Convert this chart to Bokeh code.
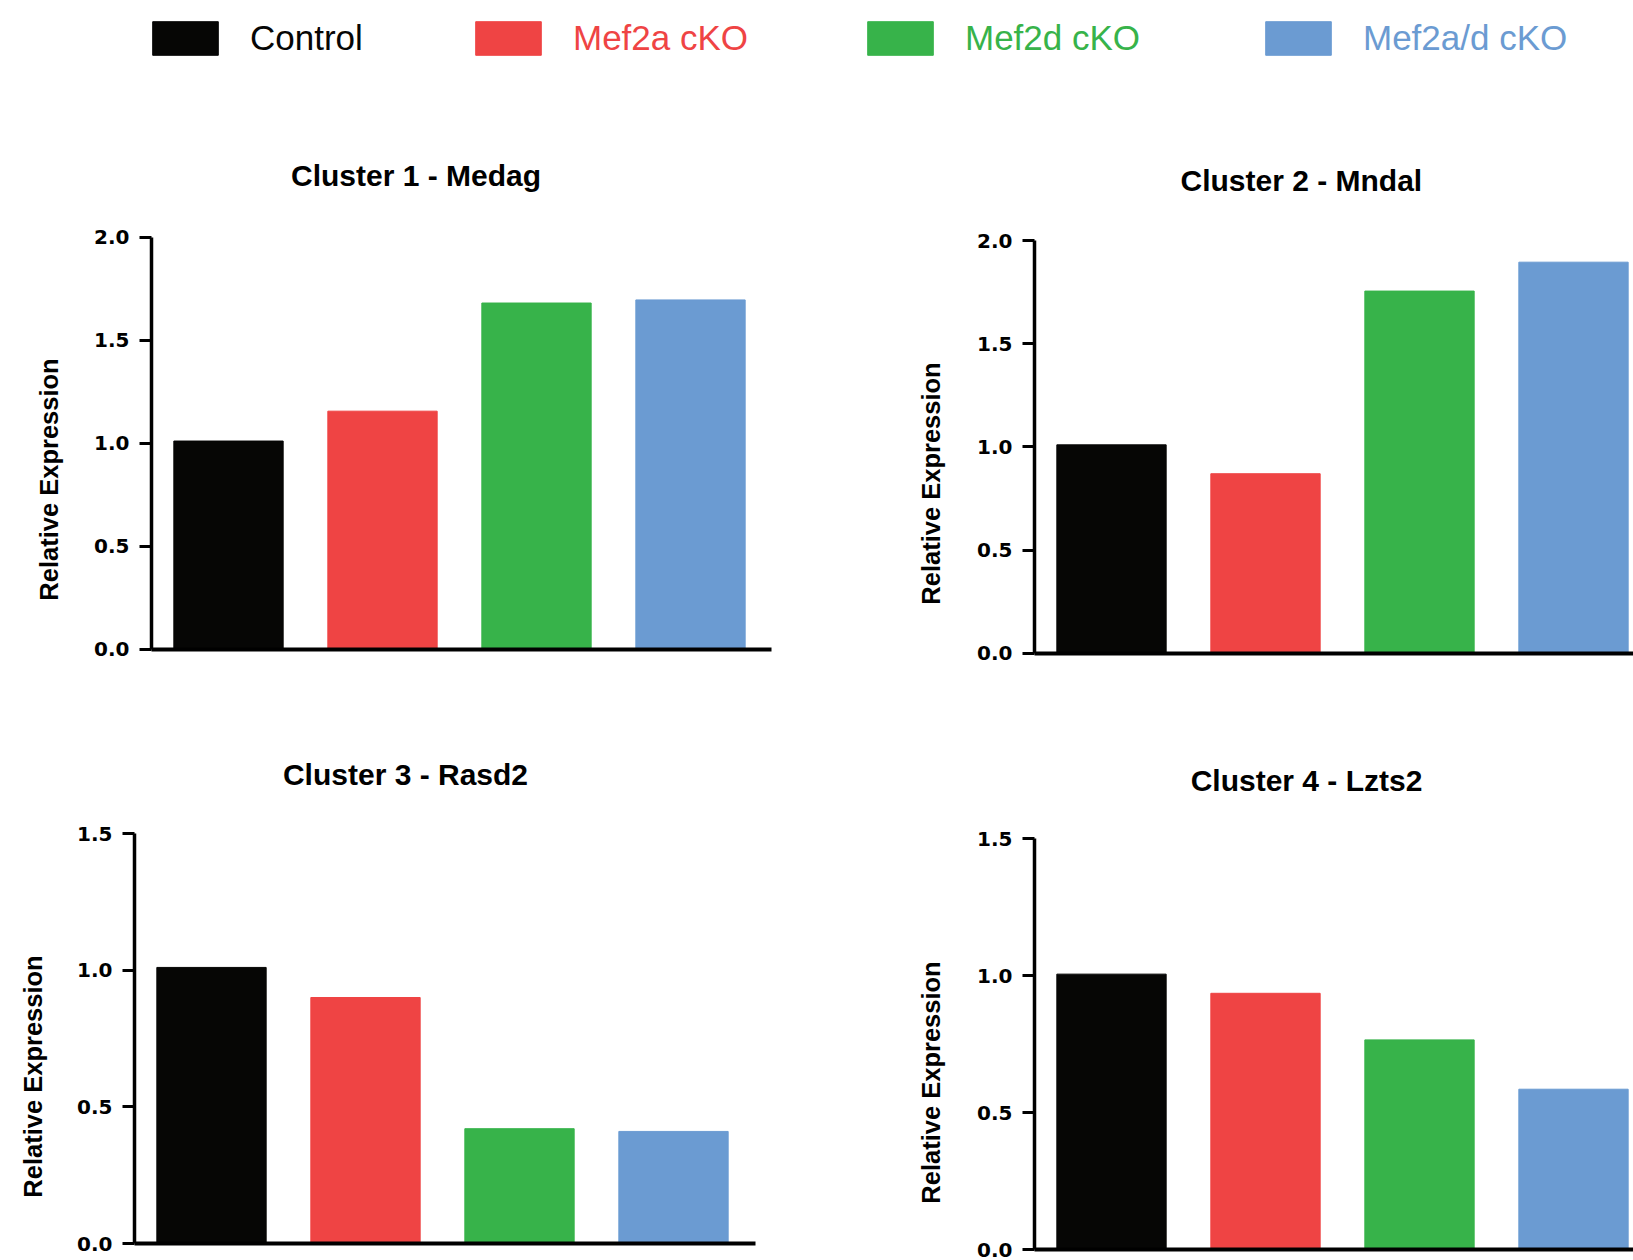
import numpy as np
from bokeh.plotting import figure
from bokeh.models import (ColumnDataSource, Range1d, FixedTicker, LinearAxis, Label,
                          Legend, LegendItem, PrintfTickFormatter)
from bokeh.layouts import column, row
from bokeh.embed import file_html
from bokeh.resources import INLINE

# ---------------- data ----------------
groups = ["Control", "Mef2a cKO", "Mef2d cKO", "Mef2a/d cKO"]
colors = ["#060605", "#EF4444", "#37B34A", "#6B9BD2"]

titles = ["Cluster 1 - Medag", "Cluster 2 -  Mndal", "Cluster 3 - Rasd2", "Cluster 4 - Lzts2"]
medag = [1.01, 1.155, 1.68, 1.695]
mndal = [1.01, 0.87, 1.755, 1.895]
rasd2 = [1.01, 0.90, 0.42, 0.41]
lzts2 = [1.005, 0.935, 0.765, 0.585]

y_label = "Relative Expression"
yticks_c12 = [0.0, 0.5, 1.0, 1.5, 2.0]
yticks_c34 = [0.0, 0.5, 1.0, 1.5]

FONT = "Liberation Sans"
UNIT = 154.0  # px per category slot


def panel(title, values, yticks, fig, axis_x, y0_px, ytop_px, xaxis_end_px,
          title_c, ylabel_c):
    """fig = (left, top, width, height) of the figure on the page, in px."""
    fl, ft, fw, fh = fig
    y_per = (y0_px - ytop_px) / yticks[-1]
    x_start = -0.5 - (axis_x - fl) / UNIT
    x_end = x_start + fw / UNIT
    y_start = -(ft + fh - y0_px) / y_per
    y_end = (y0_px - ft) / y_per

    def dx(px):
        return -0.5 + (px - axis_x) / UNIT

    def dy(py):
        return (y0_px - py) / y_per

    p = figure(width=fw, height=fh, output_backend="svg", toolbar_location=None,
               x_range=Range1d(x_start, x_end), y_range=Range1d(y_start, y_end),
               min_border=0, x_axis_type=None, y_axis_type=None)
    p.outline_line_color = None
    p.background_fill_color = "white"
    p.border_fill_color = "white"

    src = ColumnDataSource(dict(x=np.arange(len(groups)), top=values,
                                color=colors, group=groups))
    p.vbar(x="x", top="top", width=0.71, source=src,
           fill_color="color", line_color="color", line_width=1)

    xaxis = LinearAxis(fixed_location=0, bounds=(-0.5, dx(min(xaxis_end_px, fl + fw))),
                       ticker=FixedTicker(ticks=[]), axis_line_width=4,
                       axis_line_color="black", major_tick_line_color=None,
                       minor_tick_line_color=None, major_tick_out=0, major_tick_in=0,
                       major_label_standoff=0, major_label_text_font_size="0px")
    p.add_layout(xaxis, "below")

    yaxis = LinearAxis(fixed_location=-0.5, bounds=(yticks[0], yticks[-1]),
                       ticker=FixedTicker(ticks=yticks),
                       formatter=PrintfTickFormatter(format="%.1f"),
                       axis_line_width=3.5, axis_line_color="black",
                       major_tick_line_width=3, major_tick_line_color="black",
                       major_tick_out=12, major_tick_in=0,
                       minor_tick_line_color=None,
                       major_label_standoff=10,
                       major_label_text_font="DejaVu Sans",
                       major_label_text_font_style="bold",
                       major_label_text_font_size="20px",
                       major_label_text_color="black")
    p.add_layout(yaxis, "left")

    p.add_layout(Label(x=dx(title_c[0]), y=dy(title_c[1]), text=title,
                       text_align="center", text_baseline="middle",
                       text_font=FONT, text_font_style="bold", text_font_size="30px",
                       text_color="black"))
    p.add_layout(Label(x=dx(ylabel_c[0]), y=dy(ylabel_c[1]), angle=np.pi / 2,
                       text=y_label, text_align="center", text_baseline="middle",
                       text_font=FONT, text_font_style="bold",
                       text_font_size="25.5px", text_color="black"))
    return p


p1 = panel(titles[0], medag, yticks_c12, (0, 128, 800, 562), 151, 648.6, 236.6, 771,
           (415.5, 175), (48.5, 479))
p2 = panel(titles[1], mndal, yticks_c12, (800, 128, 833, 562), 1034, 652.8, 240, 1633,
           (1305, 180), (930.5, 483))
p3 = panel(titles[2], rasd2, yticks_c34, (0, 690, 800, 570), 134, 1243, 833, 755,
           (405, 773.5), (32, 1076))
p4 = panel(titles[3], lzts2, yticks_c34, (800, 690, 833, 570), 1034, 1249, 838, 1633,
           (1306, 780), (930, 1082))

# ---------------- legend ----------------
leg = figure(width=1633, height=128, output_backend="svg", toolbar_location=None,
             x_range=Range1d(0, 1), y_range=Range1d(1, 2),
             x_axis_type=None, y_axis_type=None, min_border=0)
leg.outline_line_color = None
swatch_left = [152, 475, 867, 1265]
GW, GH = 82, 42  # legend glyph box (area glyph is inset 10% on each side)
LH = 46          # label row height (puts the text a little below the swatch centre)
for name, color, sx in zip(groups, colors, swatch_left):
    r = leg.vbar(x=[0.5], top=[0], width=0.1, fill_color=color, line_color=color)
    lg = Legend(items=[LegendItem(label=name, renderers=[r])],
                location=(int(round(sx - 0.1 * GW)), 71 - (LH - GH)),
                orientation="horizontal", glyph_width=GW, glyph_height=GH,
                label_standoff=24, label_text_font=FONT, label_text_font_size="35px",
                label_text_color=color, label_height=LH, padding=0, margin=0,
                spacing=0, border_line_color=None, background_fill_alpha=0)
    leg.add_layout(lg, "center")

layout = column(leg, row(p1, p2), row(p3, p4))
open("out.html", "w").write(file_html(layout, INLINE))
